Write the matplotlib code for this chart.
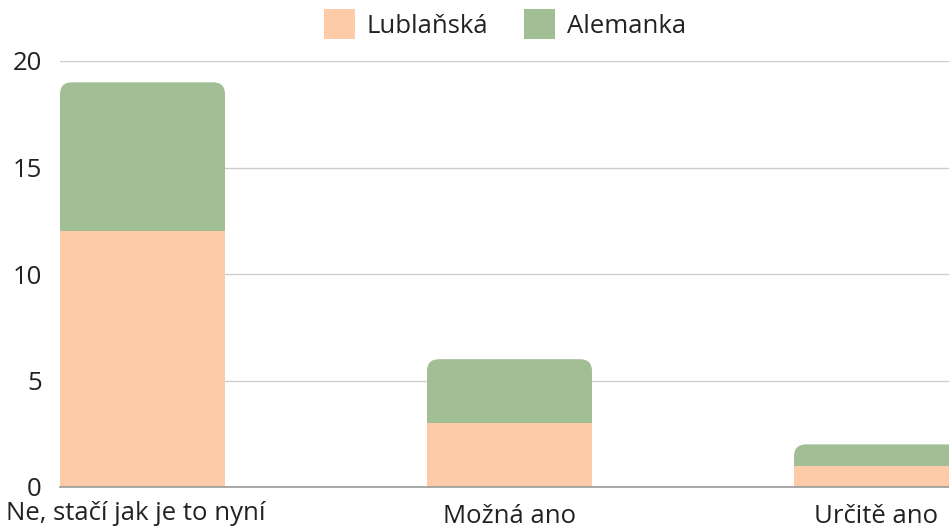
import matplotlib
matplotlib.use("Agg")
import matplotlib.pyplot as plt
from matplotlib.patches import FancyBboxPatch, Patch
from matplotlib.transforms import ScaledTranslation

categories = ["Ne, stačí jak je to nyní", "Možná ano", "Určitě ano"]
series_names = ["Lublaňská", "Alemanka"]
lublanska = [12, 3, 1]
alemanka = [7, 3, 1]
y_ticks = [0, 5, 10, 15, 20]

C_LUB = "#FECBA9"
C_ALE = "#A2BE95"
TXT = "#222222"

plt.rcParams["font.family"] = ["Open Sans", "DejaVu Sans"]

W, H, DPI = 949, 531, 100
fig = plt.figure(figsize=(W / DPI, H / DPI), dpi=DPI)
ax = fig.add_axes([60 / W, (H - 487) / H, 889 / W, 426 / H])

x = list(range(len(categories)))
bw = 165 / 367
ax.set_xlim(-bw / 2, -bw / 2 + 889 / 367)
ax.set_ylim(0, 20)

ax.bar(x, lublanska, width=bw, color=C_LUB, zorder=3, linewidth=0)
top = ax.bar(x, alemanka, width=bw, bottom=lublanska, color=C_ALE, zorder=2, linewidth=0)

# round top corners of the upper segments
px_x = 367.0
px_y = 426 / 20
r_px = 12
rx = r_px / px_x
ry = r_px / px_y
for rect in top:
    x0, y0 = rect.get_x(), rect.get_y()
    w, h = rect.get_width(), rect.get_height()
    rect.remove()
    fb = FancyBboxPatch((x0, y0 - ry), w, h + ry,
                        boxstyle=f"round,pad=0,rounding_size={rx}",
                        mutation_aspect=ry / rx,
                        facecolor=C_ALE, edgecolor="none", zorder=2)
    ax.add_patch(fb)

ax.set_yticks(y_ticks)
ax.set_yticklabels([str(v) for v in y_ticks])
ax.grid(axis="y", color="#CCCCCC", linewidth=1, zorder=0)
ax.set_axisbelow(True)
for s in ["top", "right", "left"]:
    ax.spines[s].set_visible(False)
ax.spines["bottom"].set_color("#999999")
ax.spines["bottom"].set_linewidth(1.2)
ax.spines["bottom"].set_zorder(4)
ax.tick_params(axis="y", length=0, pad=13, labelsize=18.5, labelcolor=TXT)
ax.tick_params(axis="x", length=0, pad=12, labelsize=18.5, labelcolor=TXT)
ax.set_xticks(x)
ax.set_xticklabels(categories)

# first label shifted (fits left edge)
lbl0 = ax.get_xticklabels()[0]
lbl0.set_transform(lbl0.get_transform() + ScaledTranslation(-6.5 / DPI, 3 / DPI, fig.dpi_scale_trans))

handles = [Patch(facecolor=C_LUB, edgecolor="none"), Patch(facecolor=C_ALE, edgecolor="none")]
fig.legend(handles, series_names, loc="center", bbox_to_anchor=(505 / W, 1 - 24 / H),
           ncol=2, frameon=False, fontsize=18.5, handlelength=1.2, handleheight=1.4,
           handletextpad=0.47, columnspacing=1.4, labelcolor=TXT, borderaxespad=0)

fig.savefig("out.png", dpi=DPI)
